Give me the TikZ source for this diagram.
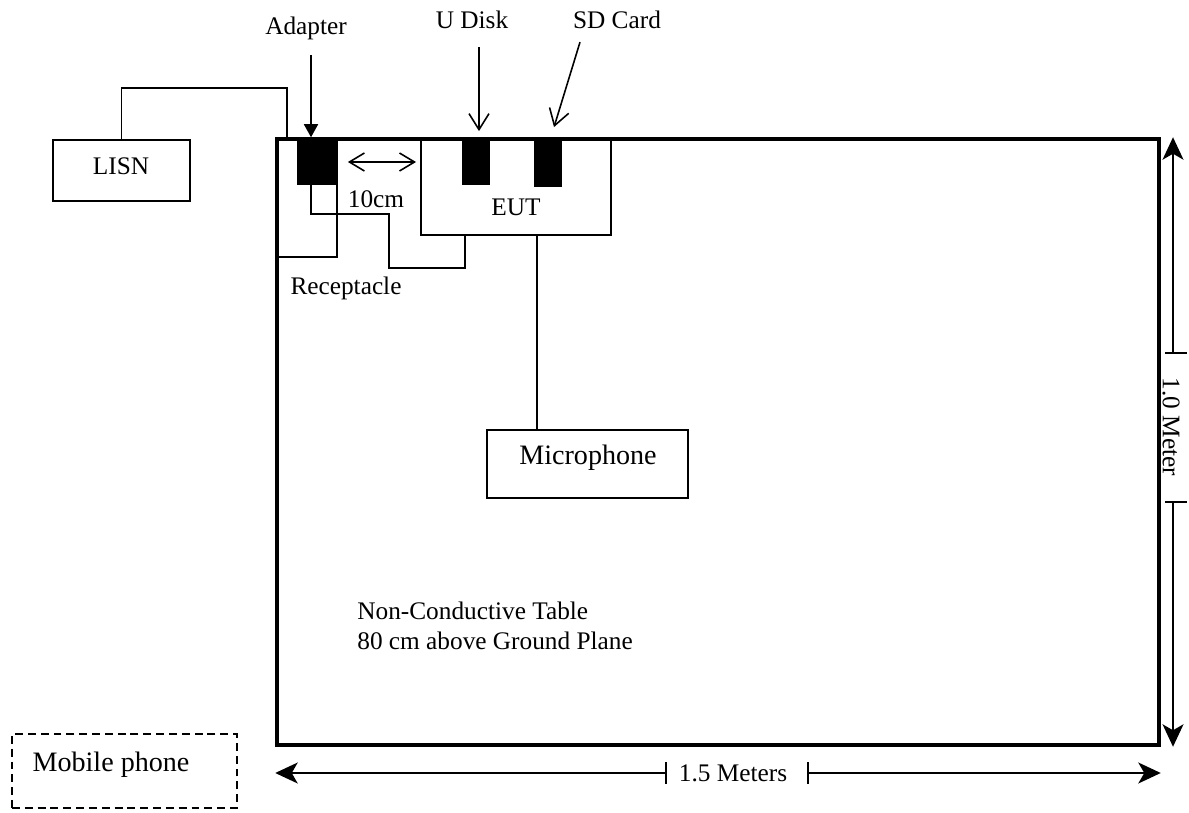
\documentclass[tikz,border=0pt]{standalone}
\usepackage{fontspec}
\setmainfont{Liberation Serif}
\usetikzlibrary{arrows.meta,calc,fit,positioning}
\tikzset{
    tablebox/.style={draw, line width=2pt, inner sep=0pt},
    unitbox/.style={draw, line width=1.1pt, inner sep=0pt},
    plugbox/.style={draw, fill=black, line width=1pt, inner sep=0pt},
    phonebox/.style={draw, line width=1pt, dash pattern=on 4.5pt off 2.8pt, inner sep=0pt},
    lbl/.style={font=\fontsize{14.4}{17}\selectfont, inner sep=0pt},
    biglbl/.style={font=\fontsize{16}{19}\selectfont, inner sep=0pt},
    wire/.style={line width=1.1pt},
    filltip/.style={line width=0.9pt, -{Triangle[length=0.26cm, width=0.28cm]}},
    barbtip/.style={line width=0.9pt, -{Straight Barb[length=0.32cm, width=0.4cm]}},
    spanarrow/.style={line width=0.9pt, {Straight Barb[length=0.3cm, width=0.36cm]}-{Straight Barb[length=0.3cm, width=0.36cm]}},
    dimtip/.style={line width=0.8pt, -{Stealth[length=0.45cm, width=0.42cm, inset=0.12cm]}},
    dimtick/.style={line width=0.8pt}
}
\begin{document}
\begin{tikzpicture}[x=0.02cm, y=-0.02cm]
    \useasboundingbox (0,0) rectangle (1189,813);

    % table and boxes
    \node[tablebox, fit={(277,139)(1159,745)}] (table) {};
    \node[unitbox, fit={(53,140)(190,201)}] (lisn) {};
    \node[lbl] at (121,166) (lisnlbl) {LISN};
    \node[unitbox, fit={(277,139)(337,257)}] (recept) {};
    \node[lbl] at (346,288) (receptlbl) {Receptacle};
    \node[plugbox, fit={(298,140)(336,184)}] (adapter) {};
    \node[unitbox, fit={(421,140)(611,235)}] (eut) {};
    \node[lbl] at (516,207) (eutlbl) {EUT};
    \node[plugbox, fit={(463,140)(489,184)}] (udisk) {};
    \node[plugbox, fit={(535,140)(561,186)}] (sdcard) {};
    \node[unitbox, fit={(487,430)(688,498)}] (mic) {};
    \node[biglbl] at (588,458) (miclbl) {Microphone};
    \node[phonebox, fit={(12,734)(237,808)}] (phone) {};
    \node[biglbl] at (111,765) (phonelbl) {Mobile phone};

    % labels on top
    \node[lbl] at (306,28) (adapterlbl) {Adapter};
    \node[lbl] at (472,20) (udisklbl) {U Disk};
    \node[lbl] at (617,20) (sdcardlbl) {SD Card};
    \node[lbl] at (376,199) (gaplbl) {10cm};
    \node[lbl, align=left, anchor=west] at (357,626) (tablelbl)
        {Non-Conductive Table\\80 cm above Ground Plane};

    % wiring
    \coordinate (lisnbend) at (287,88);
    \draw[wire] (lisn.north) |- (lisnbend) -- (lisnbend |- table.north);
    \coordinate (plugx) at (311,0);
    \coordinate (bend1) at (389,214);
    \coordinate (bend2) at (465,268);
    \draw[wire] (adapter.south -| plugx) |- (bend1) |- (bend2) -- (bend2 |- eut.south);
    \coordinate (micx) at (537,0);
    \draw[wire] (eut.south -| micx) -- (mic.north -| micx);

    % pointers
    \draw[filltip] ($(adapterlbl.south -| plugx)+(0,15)$) -- (plugx |- table.north);
    \draw[barbtip] ($(udisk.north)+(3,-92)$) -- ($(udisk.north)+(3,-8)$);
    \draw[barbtip] ($(sdcard.north)+(32,-97)$) -- ($(sdcard.north)+(6,-12)$);
    \draw[spanarrow] ($(adapter.east)+(11,0)$) -- ($(adapter.east -| eut.west)+(-4,0)$);

    % height dimension
    \coordinate (htick1) at (1173,353);
    \coordinate (htick2) at (1173,502);
    \draw[dimtip] (htick1) -- (htick1 |- table.north);
    \draw[dimtip] (htick2) -- (htick2 |- table.south);
    \draw[dimtick] ($(htick1)+(-8,0)$) -- ($(htick1)+(14,0)$);
    \draw[dimtick] ($(htick2)+(-8,0)$) -- ($(htick2)+(14,0)$);
    \node[lbl, rotate=-90] at (1171,427) (heightlbl) {1.0 Meter};

    % width dimension
    \coordinate (wtick1) at (666,773);
    \coordinate (wtick2) at (808,773);
    \draw[dimtip] (wtick1) -- (wtick1 -| table.west);
    \draw[dimtip] (wtick2) -- (wtick2 -| table.east);
    \draw[dimtick] ($(wtick1)+(0,-11)$) -- ($(wtick1)+(0,11)$);
    \draw[dimtick] ($(wtick2)+(0,-11)$) -- ($(wtick2)+(0,11)$);
    \node[lbl] at (733,773) (widthlbl) {1.5 Meters};
\end{tikzpicture}
\end{document}
